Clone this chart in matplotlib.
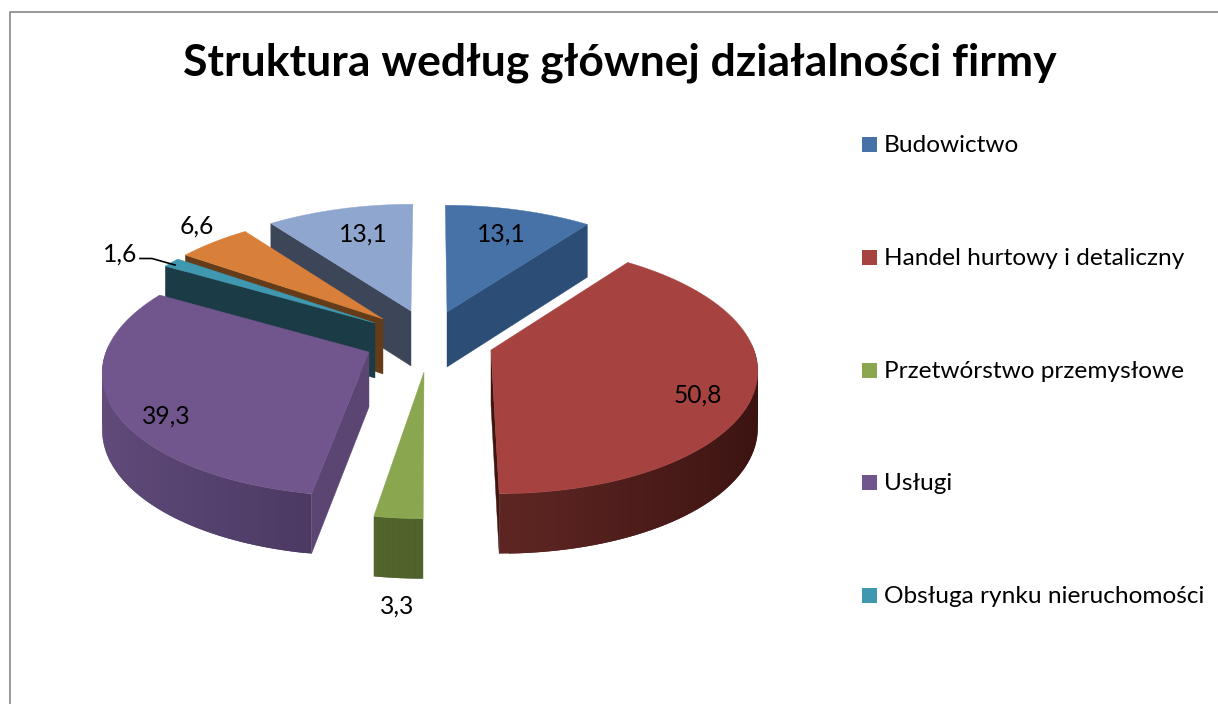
#!/usr/bin/env python3
# -*- coding: utf-8 -*-
import numpy as np
import matplotlib
matplotlib.use("Agg")
import matplotlib.pyplot as plt
from matplotlib.colors import to_rgb

title = "Struktura według głównej działalności firmy"
categories = ["Budowictwo", "Handel hurtowy i detaliczny", "Przetwórstwo przemysłowe",
              "Usługi", "Obsługa rynku nieruchomości", "Inne", "Pozostałe"]
values = [13.1, 50.8, 3.3, 39.3, 1.6, 6.6, 13.1]
legend_count = 5

top_colors = ["#4672a8", "#a64340", "#8aa64e", "#71568e", "#3f97b0", "#d88039", "#8fa6cf"]
edge_colors = ["#2c4d75", "#3f1510", "#4f612a", "#5b4673", "#1b3b46", "#653c1a", "#3d4558"]
wall_a = ["#2c4d75", "#3a1210", "#5a6e30", "#614c7c", "#1b3b46", "#653c1a", "#3d4558"]
wall_b = ["#2c4d75", "#5e2623", "#4f612a", "#48365e", "#1b3b46", "#653c1a", "#3d4558"]

# apex of each exploded slice, pixels
apex = [(447, 312), (491, 350), (424, 372), (369, 352), (375, 323), (383, 319), (411, 311)]
label_pos = [(501, 234), (698, 395), (397, 606), (166, 416), (120, 254), (197, 226), (363, 234)]

RX, RY, PERSP = 263, 122, 0.143
CX, CY = 430, 340


def project(a, t):
    # perspective disc: front bigger than back, slices spread away from the middle
    s = 1 / (1 + PERSP * np.sin(t))
    x = a[0] + RX * np.cos(t) * s + (a[0] - CX) * (s - 1) * 0.8
    y = a[1] - RY * np.sin(t) * s + (a[1] - CY) * np.maximum(s - 1, 0) * 0.8
    return x, y


def depth(t):
    return 56 - 4 * np.sin(t)


plt.rcParams["font.family"] = ["Lato", "DejaVu Sans"]
fig = plt.figure(figsize=(12.18, 7.04), dpi=100)
ax = fig.add_axes([0, 0, 1, 1])
ax.set_xlim(0, 1218)
ax.set_ylim(704, 0)
ax.axis("off")

# chart frame
ax.plot([9.5, 9.5, 1218], [704, 11.5, 11.5], color="#868686", lw=1.2)

# slice angles, clockwise from the top
ang = 360 * np.array(values) / sum(values)
starts = np.radians(90 - np.concatenate([[0], np.cumsum(ang)[:-1]]))
ends = starts - np.radians(ang)

# back to front
order = [6, 0, 5, 4, 3, 2, 1]
side_edge = {0: ends[0], 1: ends[1], 3: starts[3], 4: starts[4], 5: starts[5], 6: starts[6]}

for i in order:
    a = apex[i]
    ts = np.linspace(starts[i], ends[i], 80)
    px, py = project(a, ts)

    # straight cut wall
    if i in side_edge:
        t = side_edge[i]
        ex, ey = project(a, t)
        d = depth(t)
        ax.fill([a[0], ex, ex, a[0]], [a[1], ey, ey + d, a[1] + 55],
                color=edge_colors[i], lw=0.3, zorder=2 + order.index(i))

    # outer wall with gradient, only the part facing us
    ca, cb = np.array(to_rgb(wall_a[i])), np.array(to_rgb(wall_b[i]))
    for k in range(len(ts) - 2):
        tm = (ts[k] + ts[k + 1]) / 2
        if np.sin(tm) > 0.03:
            continue
        f = 1 - abs(np.cos(tm))
        col = ca + (cb - ca) * f
        # one step of overlap so no seams show between the quads
        ax.fill([px[k], px[k + 2], px[k + 2], px[k]],
                [py[k], py[k + 2], py[k + 2] + depth(ts[k + 2]), py[k] + depth(ts[k])],
                color=col, lw=0, zorder=2 + order.index(i))

    # top face
    ax.fill(np.r_[a[0], px], np.r_[a[1], py], color=top_colors[i], lw=0.3,
            zorder=2.5 + order.index(i))

# data labels
for v, (x, y) in zip(values, label_pos):
    ax.text(x, y, str(v).replace(".", ","), fontsize=17.7, color="black",
            ha="center", va="center", zorder=20)

# leader line of the 1,6 label
ax.plot([140, 152, 175], [258.5, 258.5, 265], color="black", lw=1.2, zorder=20)

ax.text(620, 63, title, fontsize=32, fontweight="bold", ha="center", va="center", color="black")

# legend
leg_y = [144, 257, 370, 482, 595]
for k in range(legend_count):
    ax.fill([862, 877, 877, 862], [leg_y[k] - 7, leg_y[k] - 7, leg_y[k] + 8, leg_y[k] + 8],
            color=top_colors[k], lw=0)
    ax.text(884, leg_y[k] + 1.5, categories[k], fontsize=17.6, ha="left", va="center", color="black")

fig.savefig("out.png", dpi=100)
